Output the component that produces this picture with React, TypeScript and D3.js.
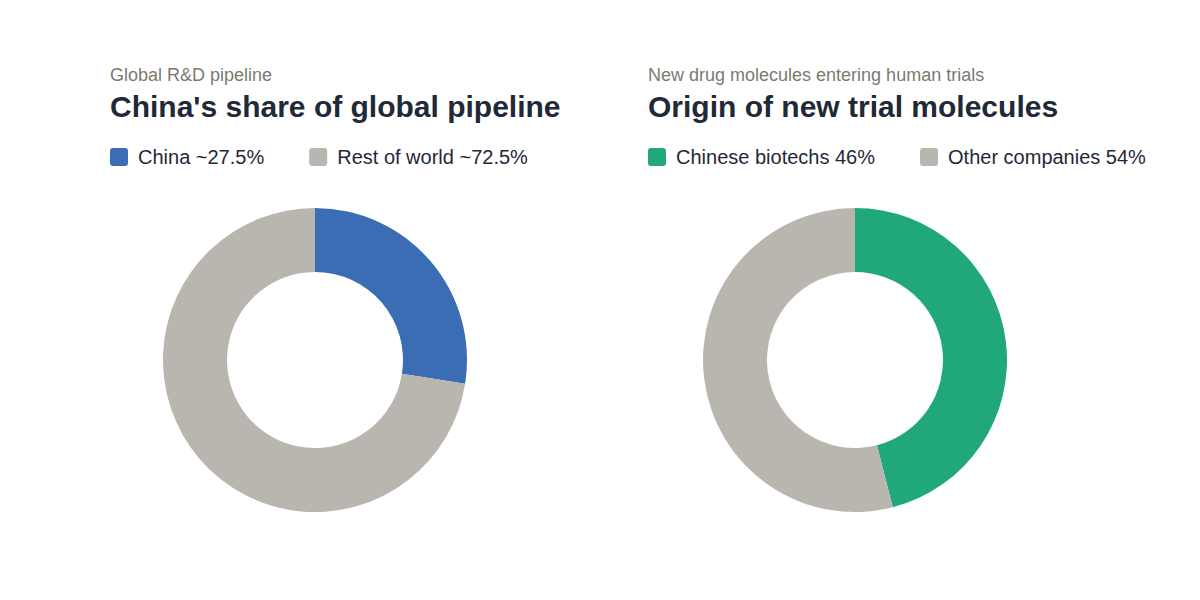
import React, { useEffect, useRef } from "react";
import * as d3 from "d3";

const panelSubtitles = ["Global R&D pipeline", "New drug molecules entering human trials"];
const panelTitles = ["China's share of global pipeline", "Origin of new trial molecules"];
const pipelineLabels = ["China ~27.5%", "Rest of world ~72.5%"];
const pipelineValues = [27.5, 72.5];
const pipelineColors = ["#3a6db4", "#b8b6ae"];
const trialLabels = ["Chinese biotechs 46%", "Other companies 54%"];
const trialValues = [46, 54];
const trialColors = ["#21a87a", "#b8b6ae"];

const FONT = "'Liberation Sans', Arial, Helvetica, sans-serif";

export default function App() {
  const ref = useRef<SVGSVGElement | null>(null);

  useEffect(() => {
    const svg = d3.select(ref.current);
    svg.selectAll("*").remove();

    const panels = [
      { x: 110, cx: 315, labels: pipelineLabels, values: pipelineValues, colors: pipelineColors },
      { x: 648, cx: 855, labels: trialLabels, values: trialValues, colors: trialColors },
    ];

    const pie = d3.pie<number>().sort(null).value((d) => d);
    const arc = d3.arc<d3.PieArcDatum<number>>().innerRadius(88).outerRadius(152);

    panels.forEach((p, i) => {
      const g = svg.append("g");
      g.append("text")
        .attr("x", p.x)
        .attr("y", 81)
        .attr("font-family", FONT)
        .attr("font-size", 18)
        .attr("fill", "#7b7a70")
        .text(panelSubtitles[i]);
      g.append("text")
        .attr("x", p.x)
        .attr("y", 117)
        .attr("font-family", FONT)
        .attr("font-size", 30)
        .attr("font-weight", 700)
        .attr("fill", "#1f2937")
        .text(panelTitles[i]);

      let lx = p.x;
      p.labels.forEach((lab, j) => {
        g.append("rect")
          .attr("x", lx)
          .attr("y", 148)
          .attr("width", 18)
          .attr("height", 18)
          .attr("rx", 3)
          .attr("fill", p.colors[j]);
        const t = g
          .append("text")
          .attr("x", lx + 28)
          .attr("y", 163.5)
          .attr("font-family", FONT)
          .attr("font-size", 20)
          .attr("fill", "#1f2937")
          .text(lab);
        const w = (t.node() as SVGTextElement).getComputedTextLength();
        lx = lx + 28 + w + 45;
      });

      const dg = g.append("g").attr("transform", `translate(${p.cx},360)`);
      dg.selectAll("path")
        .data(pie(p.values))
        .join("path")
        .attr("d", arc)
        .attr("fill", (_d, j) => p.colors[j]);
    });
  }, []);

  return (
    <svg
      ref={ref}
      width={1200}
      height={600}
      style={{ display: "block", position: "absolute", left: 0, top: 0, background: "#fff" }}
    />
  );
}
